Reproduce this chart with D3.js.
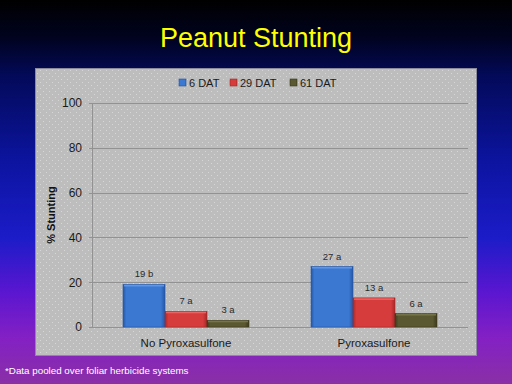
<!DOCTYPE html>
<html>
<head>
<meta charset="utf-8">
<script src="https://cdn.jsdelivr.net/npm/d3@7"></script>
<style>
  html, body { margin: 0; padding: 0; background: #000; }
  svg { display: block; }
</style>
</head>
<body>
<div id="chart"></div>
<script>
'use strict';

// data
var categories = ['No Pyroxasulfone', 'Pyroxasulfone'];
var seriesNames = ['6 DAT', '29 DAT', '61 DAT'];
var stunt6 = [19, 27];
var stunt29 = [7, 13];
var stunt61 = [3, 6];
var letters6 = ['b', 'a'];
var letters29 = ['a', 'a'];
var letters61 = ['a', 'a'];
var yTicks = [0, 20, 40, 60, 80, 100];

var series = [
  {name: seriesNames[0], values: stunt6, letters: letters6},
  {name: seriesNames[1], values: stunt29, letters: letters29},
  {name: seriesNames[2], values: stunt61, letters: letters61}
];

var colors = [
  {mid: '#3b78d2', light: '#5f97e6', dark: '#2656a6'},
  {mid: '#d63c3c', light: '#ea6464', dark: '#a82828'},
  {mid: '#5a5830', light: '#76744a', dark: '#3c3a1c'}
];

var W = 512, H = 384;
var font = 'Liberation Sans, Arial, sans-serif';

var svg = d3.select('#chart').append('svg')
    .attr('width', W)
    .attr('height', H);

var defs = svg.append('defs');

// slide background
var bg = defs.append('linearGradient').attr('id', 'bg')
    .attr('x1', 0).attr('y1', 0).attr('x2', 0).attr('y2', 1);
[[0, '#000000'], [0.1, '#010320'], [0.2, '#030a5a'], [0.42, '#0c14a0'],
 [0.62, '#1c1cc8'], [0.76, '#5a16d0'], [0.88, '#8420c4'], [1, '#8a30a6']]
  .forEach(function(s) {
    bg.append('stop').attr('offset', s[0]).attr('stop-color', s[1]);
  });

// dotted texture on the panel
var pat = defs.append('pattern').attr('id', 'dots')
    .attr('width', 6).attr('height', 6)
    .attr('patternUnits', 'userSpaceOnUse');
pat.append('rect').attr('width', 6).attr('height', 6).attr('fill', '#bdbdbd');
pat.append('rect').attr('x', 1).attr('y', 1).attr('width', 1).attr('height', 1).attr('fill', '#e2cfe6');
pat.append('rect').attr('x', 4).attr('y', 4).attr('width', 1).attr('height', 1).attr('fill', '#d6d6d6');

colors.forEach(function(c, i) {
  var g = defs.append('linearGradient').attr('id', 'bar' + i)
      .attr('x1', 0).attr('y1', 0).attr('x2', 1).attr('y2', 0);
  g.append('stop').attr('offset', 0).attr('stop-color', c.dark);
  g.append('stop').attr('offset', 0.08).attr('stop-color', c.mid);
  g.append('stop').attr('offset', 0.9).attr('stop-color', c.mid);
  g.append('stop').attr('offset', 1).attr('stop-color', c.dark);
});

svg.append('rect')
    .attr('width', W).attr('height', H)
    .attr('fill', 'url(#bg)');

// title
svg.append('text')
    .attr('x', 256).attr('y', 47)
    .attr('text-anchor', 'middle')
    .attr('font-family', font)
    .attr('font-size', 27)
    .attr('fill', '#ffff00')
    .text('Peanut Stunting');

// panel
svg.append('rect')
    .attr('x', 35.5).attr('y', 68.5)
    .attr('width', 441).attr('height', 287)
    .attr('fill', 'url(#dots)')
    .attr('stroke', '#8a8a9a')
    .attr('stroke-width', 1);

var margin = {top: 103, left: 92, right: 468, bottom: 327};

var x0 = d3.scaleBand()
    .domain(categories)
    .range([margin.left, margin.right])
    .paddingInner(0.33)
    .paddingOuter(0.165);

var x1 = d3.scaleBand()
    .domain(seriesNames)
    .range([0, x0.bandwidth()]);

var y = d3.scaleLinear()
    .domain([0, 100])
    .range([margin.bottom, margin.top]);

// grid
svg.append('g').selectAll('line')
    .data(yTicks)
  .enter().append('line')
    .attr('x1', margin.left - 3)
    .attr('x2', margin.right)
    .attr('y1', function(d) { return Math.round(y(d)) + 0.5; })
    .attr('y2', function(d) { return Math.round(y(d)) + 0.5; })
    .attr('stroke', '#929292')
    .attr('stroke-width', 1);

svg.append('line')
    .attr('x1', margin.left + 0.5).attr('x2', margin.left + 0.5)
    .attr('y1', y(100)).attr('y2', y(0))
    .attr('stroke', '#929292');

// y axis labels
var yAxis = d3.axisLeft(y).tickValues(yTicks).tickSize(0).tickPadding(10);
var yg = svg.append('g')
    .attr('transform', 'translate(' + margin.left + ',0)')
    .call(yAxis);
yg.select('.domain').remove();
yg.selectAll('text')
    .attr('font-family', font)
    .attr('font-size', 12)
    .attr('fill', '#1a1a1a');

svg.append('text')
    .attr('transform', 'translate(55,' + y(50) + ') rotate(-90)')
    .attr('text-anchor', 'middle')
    .attr('font-family', font)
    .attr('font-size', 11)
    .attr('font-weight', 'bold')
    .attr('fill', '#111')
    .text('% Stunting');

// x axis labels
var xAxis = d3.axisBottom(x0).tickSize(0).tickPadding(12);
var xg = svg.append('g')
    .attr('transform', 'translate(0,' + margin.bottom + ')')
    .call(xAxis);
xg.select('.domain').remove();
xg.selectAll('text')
    .attr('font-family', font)
    .attr('font-size', 11.5)
    .attr('fill', '#1a1a1a');

// bars
series.forEach(function(s, si) {
  var g = svg.append('g');
  var bars = g.selectAll('g')
      .data(categories.map(function(c, ci) {
        return {cat: c, v: s.values[ci], letter: s.letters[ci]};
      }))
    .enter().append('g');

  bars.append('rect')
      .attr('x', function(d) { return x0(d.cat) + x1(s.name); })
      .attr('y', function(d) { return y(d.v); })
      .attr('width', x1.bandwidth())
      .attr('height', function(d) { return y(0) - y(d.v); })
      .attr('fill', 'url(#bar' + si + ')')
      .attr('stroke', colors[si].dark)
      .attr('stroke-width', 0.6);

  // light bevel on top
  bars.append('rect')
      .attr('x', function(d) { return x0(d.cat) + x1(s.name) + 1; })
      .attr('y', function(d) { return y(d.v) + 0.5; })
      .attr('width', x1.bandwidth() - 2)
      .attr('height', 1.5)
      .attr('fill', colors[si].light);

  bars.append('text')
      .attr('x', function(d) { return x0(d.cat) + x1(s.name) + x1.bandwidth() / 2; })
      .attr('y', function(d) { return y(d.v) - 7; })
      .attr('text-anchor', 'middle')
      .attr('font-family', font)
      .attr('font-size', 9.5)
      .attr('fill', '#2a2a2a')
      .text(function(d) { return d.v + ' ' + d.letter; });
});

// legend
var legendX = [179, 230, 290];
var leg = svg.append('g').selectAll('g')
    .data(series)
  .enter().append('g')
    .attr('transform', function(d, i) { return 'translate(' + legendX[i] + ',79)'; });

leg.append('rect')
    .attr('width', 7).attr('height', 7)
    .attr('fill', function(d, i) { return 'url(#bar' + i + ')'; })
    .attr('stroke', function(d, i) { return colors[i].dark; })
    .attr('stroke-width', 0.6);

leg.append('text')
    .attr('x', 10).attr('y', 7.5)
    .attr('font-family', font)
    .attr('font-size', 11)
    .attr('fill', '#1a1a1a')
    .text(function(d) { return d.name; });

// footnote
svg.append('text')
    .attr('x', 5).attr('y', 374)
    .attr('font-family', font)
    .attr('font-size', 9.8)
    .attr('fill', '#ffffff')
    .text('*Data pooled over foliar herbicide systems');
</script>
</body>
</html>
